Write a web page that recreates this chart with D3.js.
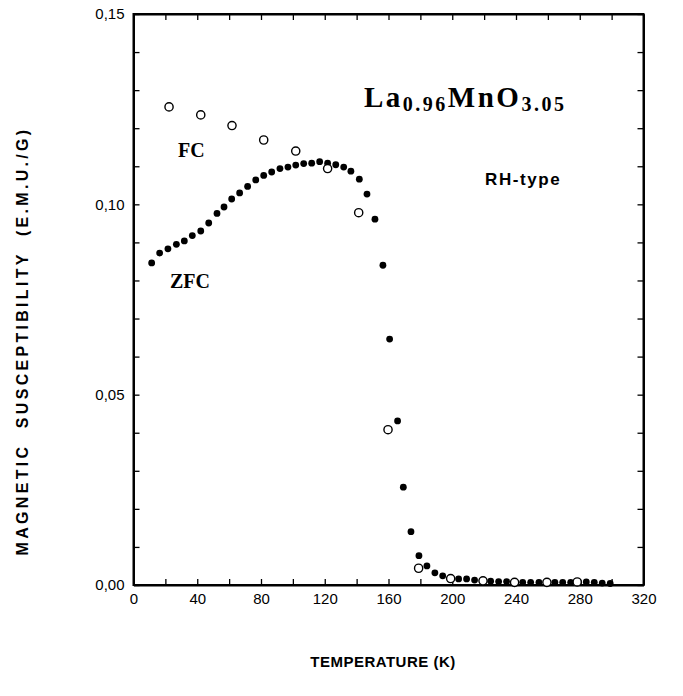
<!DOCTYPE html>
<html><head><meta charset="utf-8">
<script src="https://cdn.jsdelivr.net/npm/d3@7"></script>
<style>
body{margin:0;background:#fff;}
svg{display:block;}
</style></head>
<body>
<svg id="chart" width="683" height="696"></svg>
<script>
// ZFC (filled circles): temperature (K) and susceptibility (emu/g)
const zfcT = [11.4,16.4,21.6,26.9,31.9,36.9,42.2,47.2,52.4,56.8,61.6,66.6,71.6,76.7,81.7,86.7,91.9,96.9,101.8,106.8,111.8,116.8,121.8,126.9,131.9,136.4,141.7,146.5,151.5,156.5,160.7,165.7,169.3,174.1,179.1,184.1,189.1,194.0,199.0,204.0,209.0,214.0,219.0,224.1,229.1,234.1,239.1,244.2,249.2,254.4,259.4,264.4,269.3,274.3,279.3,284.1,289.1,294.1,299.1];
const zfcChi = [0.0846,0.0872,0.0883,0.0895,0.0904,0.0918,0.0930,0.0951,0.0976,0.0993,0.1014,0.1030,0.1047,0.1064,0.1076,0.1085,0.1094,0.1098,0.1103,0.1107,0.1108,0.1112,0.1108,0.1104,0.1098,0.1087,0.1066,0.1027,0.0961,0.0840,0.0646,0.0431,0.0257,0.0140,0.0077,0.0050,0.0032,0.0024,0.0018,0.0016,0.0016,0.0013,0.0011,0.0010,0.0009,0.0009,0.0008,0.0007,0.0007,0.0007,0.0007,0.0007,0.0007,0.0007,0.0007,0.0008,0.0007,0.0005,0.0004];
// FC (open circles)
const fcT = [22.3,42.2,61.8,81.7,101.8,121.8,141.3,159.7,178.9,199.0,219.3,239.1,259.4,278.4];
const fcChi = [0.1256,0.1235,0.1207,0.1169,0.1140,0.1094,0.0978,0.0408,0.0044,0.0017,0.0011,0.0007,0.0007,0.0008];
// axis ticks
const xMajor = [0,40,80,120,160,200,240,280,320];
const xMinor = [0,20,40,60,80,100,120,140,160,180,200,220,240,260,280,300,320];
const yMajor = [0,0.05,0.10,0.15];
const yMinor = [0,0.01,0.02,0.03,0.04,0.05,0.06,0.07,0.08,0.09,0.10,0.11,0.12,0.13,0.14,0.15];

const svg = d3.select("#chart");
const x = d3.scaleLinear().domain([0,320]).range([133.5,643.5]);
const y = d3.scaleLinear().domain([0,0.15]).range([585,14]);
const sans = "'Liberation Sans', Arial, Helvetica, sans-serif";
const serif = "'Liberation Serif', 'Times New Roman', serif";
const fmt = d => d3.format(".2f")(d).replace(".", ",");

// axes with inward ticks
const tl = 6;
const gB = svg.append("g").attr("transform", `translate(0,${y(0)})`)
  .call(d3.axisBottom(x).tickValues(xMinor).tickSizeInner(-tl).tickSizeOuter(0).tickFormat(d => xMajor.includes(d) ? d : ""));
const gT = svg.append("g").attr("transform", `translate(0,${y(0.15)})`)
  .call(d3.axisTop(x).tickValues(xMinor).tickSizeInner(-tl).tickSizeOuter(0).tickFormat(""));
const gL = svg.append("g").attr("transform", `translate(${x(0)},0)`)
  .call(d3.axisLeft(y).tickValues(yMinor).tickSizeInner(-tl).tickSizeOuter(0)
    .tickFormat(d => yMajor.some(v => Math.abs(v-d)<1e-9) ? fmt(d) : ""));
const gR = svg.append("g").attr("transform", `translate(${x(320)},0)`)
  .call(d3.axisRight(y).tickValues(yMinor).tickSizeInner(-tl).tickSizeOuter(0).tickFormat(""));

[gB,gT,gL,gR].forEach(g => {
  g.select(".domain").attr("stroke","#000").attr("stroke-width",2);
  g.selectAll(".tick line").attr("stroke","#000").attr("stroke-width",1.3);
  g.selectAll("text").attr("fill","#000").style("font-family",sans).style("font-size","15px");
});
gB.selectAll(".tick text").attr("dy","1.05em").attr("y",3);
gL.selectAll(".tick text").attr("x",-9);

// frame
svg.append("rect").attr("x",x(0)).attr("y",y(0.15)).attr("width",x(320)-x(0)).attr("height",y(0)-y(0.15))
  .attr("fill","none").attr("stroke","#000").attr("stroke-width",2);

// data
const zfc = zfcT.map((t,i)=>({t, v: zfcChi[i]}));
const fc = fcT.map((t,i)=>({t, v: fcChi[i]}));
svg.append("g").selectAll("circle").data(zfc).join("circle")
  .attr("cx", d=>x(d.t)).attr("cy", d=>y(d.v)).attr("r",3.4).attr("fill","#000");
svg.append("g").selectAll("circle").data(fc).join("circle")
  .attr("cx", d=>x(d.t)).attr("cy", d=>y(d.v)).attr("r",4.1)
  .attr("fill","#fff").attr("stroke","#000").attr("stroke-width",1.4);

// annotations
svg.append("text").attr("x",178).attr("y",157).text("FC")
  .style("font-family",serif).style("font-weight","bold").style("font-size","20px");
svg.append("text").attr("x",170).attr("y",288).text("ZFC")
  .style("font-family",serif).style("font-weight","bold").style("font-size","20px");
const title = svg.append("text").attr("x",364).attr("y",107)
  .style("font-family",serif).style("font-weight","bold").style("letter-spacing","2.5px");
title.append("tspan").style("font-size","29px").text("La");
title.append("tspan").style("font-size","20px").attr("dy",4).text("0.96");
title.append("tspan").style("font-size","29px").attr("dy",-4).text("MnO");
title.append("tspan").style("font-size","20px").attr("dy",4).text("3.05");
svg.append("text").attr("x",485).attr("y",185).text("RH-type")
  .style("font-family",sans).style("font-weight","bold").style("font-size","17px").style("letter-spacing","1.6px");

// axis titles
svg.append("text").attr("transform","translate(28,341) rotate(-90)").attr("text-anchor","middle")
  .text("MAGNETIC  SUSCEPTIBILITY  (E.M.U./G)")
  .style("font-family",sans).style("font-weight","bold").style("font-size","16px").style("letter-spacing","3.3px")
  .style("white-space","pre");
svg.append("text").attr("x",383).attr("y",667).attr("text-anchor","middle").text("TEMPERATURE (K)")
  .style("font-family",sans).style("font-weight","bold").style("font-size","15px").style("letter-spacing","0.5px");
</script>
</body></html>
